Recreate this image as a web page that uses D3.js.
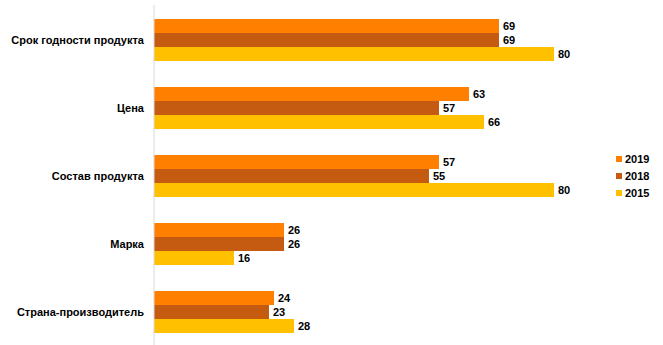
<!DOCTYPE html>
<html><head><meta charset="utf-8">
<script src="https://cdn.jsdelivr.net/npm/d3@7"></script>
<style>body{margin:0;background:#fff}text{font-family:"Liberation Sans",Arial,sans-serif;font-weight:bold;fill:#000}</style>
</head><body><svg id="c" width="663" height="345"></svg>
<script>
const categories = ["Срок годности продукта","Цена","Состав продукта","Марка","Страна-производитель"];
const years = ["2019","2018","2015"];
const v2019 = [69,63,57,26,24];
const v2018 = [69,57,55,26,23];
const v2015 = [80,66,80,16,28];
const colors = ["#FF8000","#C55A11","#FFC000"];
const series = [v2019,v2018,v2015];

const svg = d3.select("#c");
const x0 = 154;
const x = d3.scaleLinear().domain([0,80]).range([x0,554]);
const y = d3.scaleBand().domain(categories).range([6,346]).paddingInner(26/68).paddingOuter(13/68);
const yi = d3.scaleBand().domain(years).range([0,y.bandwidth()]);

categories.forEach((c,i)=>{
  series.forEach((s,j)=>{
    const yy = y(c)+yi(years[j]);
    svg.append("rect").attr("x",x(0)).attr("y",yy).attr("width",x(s[i])-x(0)).attr("height",yi.bandwidth()).attr("fill",colors[j]);
    svg.append("text").attr("x",x(s[i])+4).attr("y",yy+yi.bandwidth()/2).attr("dy","0.35em").attr("font-size",11).text(s[i]);
  });
});
svg.append("line").attr("x1",x0).attr("x2",x0).attr("y1",5).attr("y2",345).attr("stroke","#d9d9d9").attr("stroke-width",1);
const yAxis = d3.axisLeft(y).tickSize(0).tickPadding(10);
const g = svg.append("g").attr("transform",`translate(${x0},0)`).call(yAxis);
g.select(".domain").remove();
g.selectAll("text").attr("font-size",11).style("font-family","'Liberation Sans',Arial,sans-serif").style("font-weight","bold").attr("fill","#000");

const leg = svg.append("g");
years.forEach((yr,j)=>{
  const ly = 159 + j*17;
  leg.append("rect").attr("x",616).attr("y",ly-3).attr("width",6).attr("height",6).attr("fill",colors[j]);
  leg.append("text").attr("x",625).attr("y",ly).attr("dy","0.35em").attr("font-size",11).text(yr);
});
</script></body></html>
